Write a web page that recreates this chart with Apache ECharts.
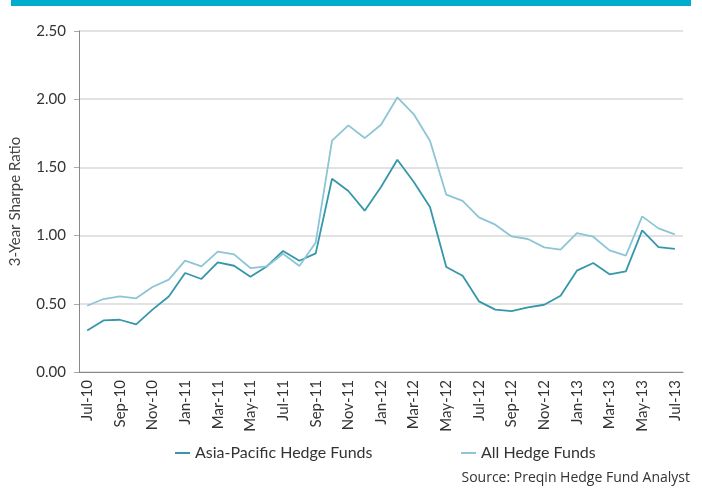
<!DOCTYPE html>
<html>
<head>
<meta charset="utf-8">
<script src="https://cdn.jsdelivr.net/npm/echarts@6/dist/echarts.min.js"></script>
<style>
  html, body { margin: 0; padding: 0; background: #fff; }
  #topbar { position: absolute; left: 11px; top: 0; width: 680px; height: 6px; background: #00AECC; }
  #chart { width: 702px; height: 491px; }
</style>
</head>
<body>
<div id="topbar"></div>
<div id="chart"></div>
<script>
const months = [
  'Jul-10', 'Aug-10', 'Sep-10', 'Oct-10', 'Nov-10', 'Dec-10',
  'Jan-11', 'Feb-11', 'Mar-11', 'Apr-11', 'May-11', 'Jun-11',
  'Jul-11', 'Aug-11', 'Sep-11', 'Oct-11', 'Nov-11', 'Dec-11',
  'Jan-12', 'Feb-12', 'Mar-12', 'Apr-12', 'May-12', 'Jun-12',
  'Jul-12', 'Aug-12', 'Sep-12', 'Oct-12', 'Nov-12', 'Dec-12',
  'Jan-13', 'Feb-13', 'Mar-13', 'Apr-13', 'May-13', 'Jun-13', 'Jul-13'
];
const asiaPacific = [
  0.305, 0.378, 0.383, 0.349, 0.457, 0.554,
  0.726, 0.682, 0.804, 0.779, 0.699, 0.774,
  0.887, 0.816, 0.870, 1.417, 1.327, 1.183,
  1.356, 1.556, 1.395, 1.209, 0.770, 0.706,
  0.518, 0.457, 0.447, 0.474, 0.493, 0.559,
  0.743, 0.799, 0.716, 0.738, 1.038, 0.916, 0.902
];
const allHedge = [
  0.486, 0.535, 0.554, 0.540, 0.623, 0.677,
  0.816, 0.774, 0.882, 0.862, 0.762, 0.774,
  0.867, 0.777, 0.950, 1.696, 1.808, 1.715,
  1.813, 2.013, 1.891, 1.696, 1.300, 1.254,
  1.134, 1.080, 0.994, 0.975, 0.914, 0.897,
  1.019, 0.992, 0.892, 0.853, 1.141, 1.053, 1.009
];

const font = 'Lato, "DejaVu Sans", sans-serif';
const darkColor = '#3597aa';
const lightColor = '#8dc5d6';

const myChart = echarts.init(document.getElementById('chart'));
const option = {
  animation: false,
  grid: { left: 77, right: 19, top: 31, bottom: 119 },
  legend: [
    {
      data: ['Asia-Pacific Hedge Funds'],
      left: 170, top: 440,
      icon: 'rect', itemWidth: 15, itemHeight: 2, itemGap: 3,
      textStyle: { fontFamily: font, fontSize: 16, color: '#333' },
      selectedMode: false
    },
    {
      data: ['All Hedge Funds'],
      left: 456, top: 440,
      icon: 'rect', itemWidth: 15, itemHeight: 2, itemGap: 3,
      textStyle: { fontFamily: font, fontSize: 16, color: '#333' },
      selectedMode: false
    }
  ],
  graphic: [
    {
      type: 'text', right: 12, top: 471,
      style: { text: 'Source: Preqin Hedge Fund Analyst', fontFamily: '"Open Sans", sans-serif', fontSize: 14, fill: '#333' }
    }
  ],
  xAxis: {
    type: 'category',
    data: months,
    boundaryGap: true,
    axisLine: { lineStyle: { color: '#888', width: 1 } },
    axisTick: { interval: 1, length: 5, lineStyle: { color: '#aaa' } },
    axisLabel: { interval: 1, rotate: 90, margin: 8, fontFamily: font, fontSize: 15, color: '#333' },
    splitLine: { show: false }
  },
  yAxis: {
    type: 'value',
    min: 0, max: 2.5, interval: 0.5,
    name: '3-Year Sharpe Ratio',
    nameLocation: 'middle',
    nameGap: 56,
    nameTextStyle: { fontFamily: font, fontSize: 15, color: '#444' },
    axisLine: { show: true, lineStyle: { color: '#888', width: 1 } },
    axisTick: { show: true, length: 5, lineStyle: { color: '#aaa' } },
    axisLabel: { margin: 13, fontFamily: font, fontSize: 15, color: '#333', formatter: (v) => v.toFixed(2) },
    splitLine: { lineStyle: { color: '#d9d9d9', width: 1.5 } }
  },
  series: [
    {
      name: 'Asia-Pacific Hedge Funds',
      type: 'line',
      data: asiaPacific,
      showSymbol: false,
      symbol: 'none',
      itemStyle: { color: darkColor },
      lineStyle: { color: darkColor, width: 1.8 }
    },
    {
      name: 'All Hedge Funds',
      type: 'line',
      data: allHedge,
      showSymbol: false,
      symbol: 'none',
      itemStyle: { color: lightColor },
      lineStyle: { color: lightColor, width: 1.8 }
    }
  ]
};
myChart.setOption(option);
</script>
</body>
</html>
